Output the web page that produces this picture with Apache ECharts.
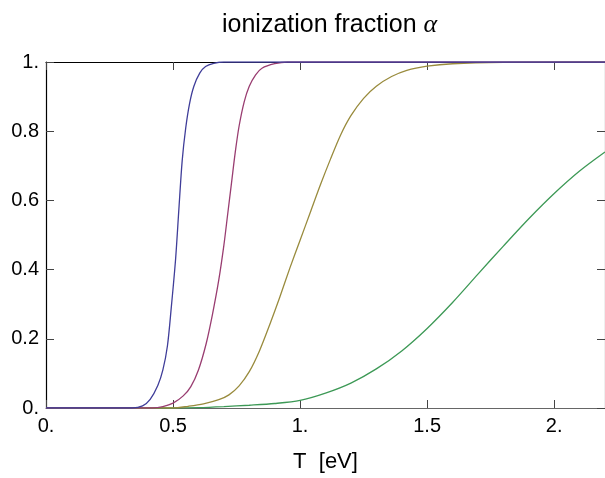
<!DOCTYPE html>
<html>
<head>
<meta charset="utf-8">
<script src="https://cdn.jsdelivr.net/npm/echarts@6/dist/echarts.min.js"></script>
<style>
html,body{margin:0;padding:0;background:#fff;}
#c{width:605px;height:478px;}
</style>
</head>
<body>
<div id="c"></div>
<script>
// Data: [T (eV), ionization fraction]
const seriesNames = ['curve1', 'curve2', 'curve3', 'curve4'];
const curve1 = [[0,0],[0.34,0],[0.38,0.006],[0.41,0.025],[0.44,0.065],[0.46,0.11],[0.478,0.18],[0.493,0.29],[0.510,0.43],[0.523,0.575],[0.536,0.715],[0.55,0.81],[0.565,0.88],[0.582,0.93],[0.605,0.968],[0.628,0.987],[0.66,0.996],[0.7,1],[2.2,1]];
const curve2 = [[0,0],[0.42,0],[0.46,0.004],[0.50,0.014],[0.54,0.035],[0.57,0.062],[0.60,0.11],[0.63,0.185],[0.655,0.27],[0.68,0.37],[0.70,0.47],[0.715,0.56],[0.73,0.65],[0.745,0.74],[0.76,0.815],[0.78,0.885],[0.80,0.93],[0.825,0.963],[0.85,0.982],[0.9,0.995],[0.95,1],[2.2,1]];
const curve3 = [[0,0],[0.5,0],[0.56,0.005],[0.62,0.012],[0.68,0.024],[0.72,0.038],[0.76,0.064],[0.80,0.105],[0.84,0.165],[0.88,0.24],[0.92,0.32],[0.96,0.405],[1.0,0.485],[1.04,0.565],[1.08,0.645],[1.12,0.72],[1.16,0.79],[1.20,0.845],[1.25,0.895],[1.30,0.93],[1.36,0.958],[1.42,0.976],[1.5,0.988],[1.6,0.995],[1.8,0.999],[2.2,1]];
const curve4 = [[0,0],[0.5,0],[0.6,0.001],[0.7,0.004],[0.8,0.008],[0.9,0.013],[1.0,0.022],[1.1,0.043],[1.2,0.072],[1.3,0.113],[1.4,0.165],[1.5,0.23],[1.6,0.305],[1.7,0.387],[1.8,0.468],[1.9,0.547],[2.0,0.62],[2.1,0.685],[2.2,0.74]];
const xTickValues = [0, 0.5, 1, 1.5, 2];
const xTickLabels = ['0.', '0.5', '1.', '1.5', '2.'];
const yTickValues = [0, 0.2, 0.4, 0.6, 0.8, 1];
const yTickLabels = ['0.', '0.2', '0.4', '0.6', '0.8', '1.'];
const colors = ['#3f3d99', '#993d71', '#998b3d', '#3d9956'];

const fmt = (vals, labels) => v => {
  for (let i = 0; i < vals.length; i++) if (Math.abs(vals[i] - v) < 1e-6) return labels[i];
  return '';
};
const font = 'Liberation Sans, Arial, Helvetica, sans-serif';
const chart = echarts.init(document.getElementById('c'), null, {renderer: 'canvas'});
const tickStyle = {lineStyle: {color: '#444', width: 1}};
chart.setOption({
  animation: false,
  backgroundColor: '#fff',
  title: {
    text: '{a|ionization fraction }{b|α}',
    left: 217,
    top: 7,
    textStyle: {
      fontWeight: 'normal',
      rich: {
        a: {fontFamily: font, fontSize: 25, fontWeight: 'normal', color: '#000'},
        b: {fontFamily: 'Liberation Serif, Times New Roman, serif', fontStyle: 'italic', fontWeight: 'normal', fontSize: 26, color: '#000'}
      }
    }
  },
  grid: {left: 46, top: 62, width: 563, height: 348, containLabel: false},
  xAxis: [{
    type: 'value', min: 0, max: 2.2, interval: 0.5, position: 'bottom',
    name: 'T  [eV]', nameLocation: 'middle', nameGap: 43,
    nameTextStyle: {fontFamily: font, fontSize: 22, color: '#000'},
    axisLine: {show: true, onZero: false, lineStyle: {color: '#666', width: 1.2}},
    axisTick: Object.assign({show: true, inside: true, length: 8}, tickStyle),
    axisLabel: {fontFamily: font, fontSize: 20, color: '#000', margin: 8, formatter: fmt(xTickValues, xTickLabels), showMaxLabel: false},
    splitLine: {show: false}
  }, {
    type: 'value', min: 0, max: 2.2, interval: 0.5, position: 'top',
    axisLine: {show: true, onZero: false, lineStyle: {color: '#000', width: 1.2}},
    axisTick: Object.assign({show: true, inside: true, length: 8}, tickStyle),
    axisLabel: {show: false},
    splitLine: {show: false}
  }],
  yAxis: [{
    type: 'value', min: 0, max: 1, interval: 0.2, position: 'left',
    axisLine: {show: true, onZero: false, lineStyle: {color: '#000', width: 1.2}},
    axisTick: Object.assign({show: true, inside: true, length: 8}, tickStyle),
    axisLabel: {fontFamily: font, fontSize: 20, color: '#000', margin: 7, formatter: fmt(yTickValues, yTickLabels)},
    splitLine: {show: false}
  }, {
    type: 'value', min: 0, max: 1, interval: 0.2, position: 'right',
    axisLine: {show: true, onZero: false, lineStyle: {color: '#666', width: 1.2}},
    axisTick: Object.assign({show: true, inside: true, length: 8}, tickStyle),
    axisLabel: {show: false},
    splitLine: {show: false}
  }],
  series: [curve4, curve3, curve2, curve1].map((d, i) => ({
    name: seriesNames[3 - i],
    type: 'line',
    data: d,
    xAxisIndex: 0, yAxisIndex: 0,
    showSymbol: false,
    smooth: 0.3,
    clip: true,
    lineStyle: {color: colors[3 - i], width: 1.3}
  }))
});
</script>
</body>
</html>
